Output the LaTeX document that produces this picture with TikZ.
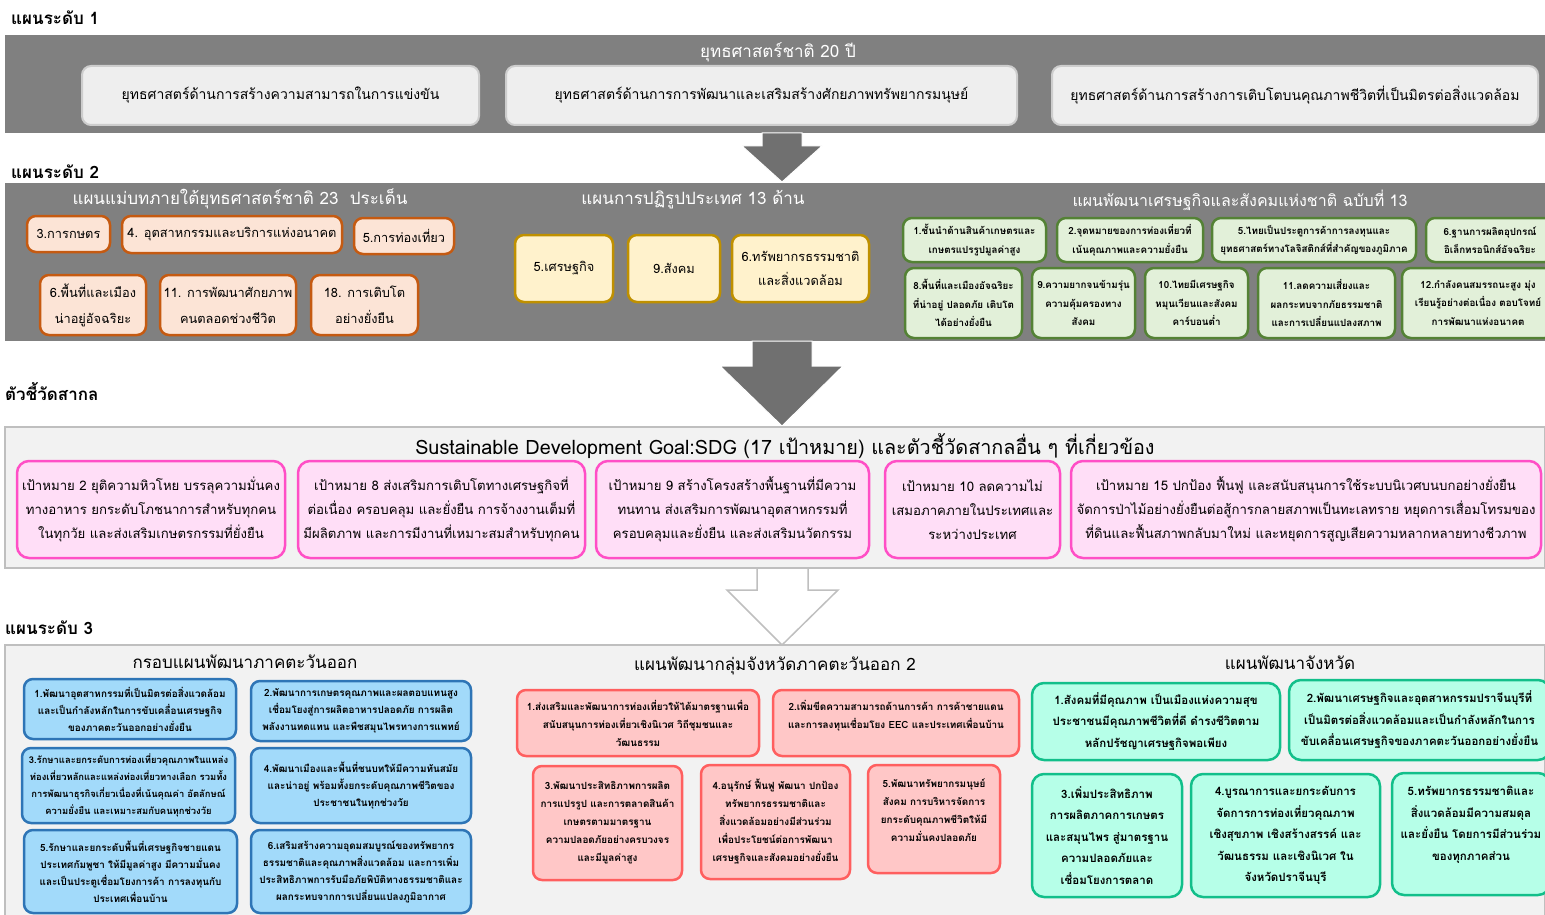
\documentclass[tikz,border=0pt]{standalone}
\usepackage{fontspec}
\setmainfont[Script=Thai]{Loma}
\usepackage{tikz}
\usetikzlibrary{shapes, arrows}

\definecolor{bandgray}{RGB}{128,128,128}
\definecolor{arrowgray}{RGB}{112,112,112}
\definecolor{lvlfill}{RGB}{238,238,238}
\definecolor{lvlborder}{RGB}{205,205,205}
\definecolor{panelfill}{RGB}{242,242,242}
\definecolor{panelborder}{RGB}{191,191,191}
\definecolor{orfill}{RGB}{252,228,214}
\definecolor{orborder}{RGB}{197,90,17}
\definecolor{yefill}{RGB}{255,242,204}
\definecolor{yeborder}{RGB}{191,144,0}
\definecolor{grfill}{RGB}{226,240,217}
\definecolor{grborder}{RGB}{84,130,53}
\definecolor{pkfill}{RGB}{255,222,247}
\definecolor{pkborder}{RGB}{255,79,198}
\definecolor{blfill}{RGB}{162,218,250}
\definecolor{blborder}{RGB}{46,117,182}
\definecolor{rdfill}{RGB}{255,199,199}
\definecolor{rdborder}{RGB}{255,95,95}
\definecolor{tlfill}{RGB}{182,255,232}
\definecolor{tlborder}{RGB}{18,191,138}

\tikzset{sz/.style 2 args={minimum width=#1pt, minimum height=#2pt}}

\begin{document}
\begin{tikzpicture}[x=1pt, y=-1pt]
    \tikzstyle{band} = [fill=bandgray, inner sep=0pt]
    \tikzstyle{panel} = [draw=panelborder, fill=panelfill, line width=2.5pt, inner sep=0pt]
    \tikzstyle{lvllabel} = [anchor=west, inner sep=0pt, font=\fontsize{17}{20}\selectfont\bfseries]
    \tikzstyle{bandtitle} = [text=white, inner sep=0pt, font=\fontsize{17}{20}\selectfont]
    \tikzstyle{paneltitle} = [inner sep=0pt, font=\fontsize{17}{20}\selectfont]
    \tikzstyle{base} = [rounded corners=9pt, align=center, inner sep=2pt, line width=2.5pt]
    \tikzstyle{lvlbox} = [base, draw=lvlborder, fill=lvlfill, line width=2pt, font=\fontsize{14}{18}\selectfont]
    \tikzstyle{obox} = [base, draw=orborder, fill=orfill, font=\fontsize{12.8}{26}\selectfont]
    \tikzstyle{ybox} = [base, draw=yeborder, fill=yefill, font=\fontsize{12.8}{24}\selectfont]
    \tikzstyle{gbox} = [base, draw=grborder, fill=grfill, font=\fontsize{9.8}{18.5}\selectfont\bfseries]
    \tikzstyle{pbox} = [base, draw=pkborder, fill=pkfill, rounded corners=12pt, font=\fontsize{13.2}{24}\selectfont]
    \tikzstyle{bbox} = [base, draw=blborder, fill=blfill, font=\fontsize{9.9}{17}\selectfont\bfseries]
    \tikzstyle{rbox} = [base, draw=rdborder, fill=rdfill, font=\fontsize{9.9}{18}\selectfont\bfseries]
    \tikzstyle{tbox} = [base, draw=tlborder, fill=tlfill, rounded corners=12pt, font=\fontsize{11.5}{21.5}\selectfont\bfseries]
    \tikzstyle{bigarrow} = [fill=arrowgray, draw=white, line width=1pt]
    \tikzstyle{openarrow} = [fill=white, draw=panelborder, line width=1.5pt]

    \useasboundingbox (0,0) rectangle (1545,915);

    % level 1
    \node[lvllabel] (lbl1) at (11,18) {แผนระดับ 1};
    \node[band, sz={1540}{98}] (band1) at (775,84) {};
    \node[bandtitle] (title1) at (778,52) {ยุทธศาสตร์ชาติ 20 ปี};
    \node[lvlbox, sz={397}{59}] (s1) at (280.5,95.5) {ยุทธศาสตร์ด้านการสร้างความสามารถในการแข่งขัน};
    \node[lvlbox, sz={511}{59}] (s2) at (761.5,95.5) {ยุทธศาสตร์ด้านการการพัฒนาและเสริมสร้างศักยภาพทรัพยากรมนุษย์};
    \node[lvlbox, sz={486}{59}] (s3) at (1295,95.5) {ยุทธศาสตร์ด้านการสร้างการเติบโตบนคุณภาพชีวิตที่เป็นมิตรต่อสิ่งแวดล้อม};

    \filldraw[bigarrow] (762,133) -- (802,133) -- (802,146) -- (822,146) -- (782,182)
        -- (742,146) -- (762,146) -- cycle;

    % level 2
    \node[lvllabel] (lbl2) at (11,172) {แผนระดับ 2};
    \node[band, sz={1540}{158}] (band2) at (775,262) {};
    \node[bandtitle] (title2a) at (240,199) {แผนแม่บทภายใต้ยุทธศาสตร์ชาติ 23~~ประเด็น};
    \node[bandtitle] (title2b) at (693,200) {แผนการปฏิรูปประเทศ 13 ด้าน};
    \node[bandtitle, font=\fontsize{16}{20}\selectfont] (title2c) at (1240,200) {แผนพัฒนาเศรษฐกิจและสังคมแห่งชาติ ฉบับที่ 13};

    \node[obox, sz={83}{36}] (o3) at (68.5,234) {3.การกษตร};
    \node[obox, sz={220}{37}] (o4) at (232,234.5) {4. อุตสาหกรรมและบริการแห่งอนาคต};
    \node[obox, sz={100}{36}] (o5) at (404,236) {5.การท่องเที่ยว};
    \node[obox, sz={106}{60}] (o6) at (93,305) {6.พื้นที่และเมือง\\น่าอยู่อัจฉริยะ};
    \node[obox, sz={136}{60}] (o11) at (228,305) {11. การพัฒนาศักยภาพ\\คนตลอดช่วงชีวิต};
    \node[obox, sz={107}{60}] (o18) at (364.5,305) {18. การเติบโต\\อย่างยั่งยืน};

    \node[ybox, sz={98}{67}] (y5) at (564,268.5) {5.เศรษฐกิจ};
    \node[ybox, sz={92}{67}] (y9) at (674,268.5) {9.สังคม};
    \node[ybox, sz={137}{67}] (y6) at (800.5,268.5) {6.ทรัพยากรธรรมชาติ\\และสิ่งแวดล้อม};

    \node[gbox, sz={143}{44}] (g1) at (974.5,240) {1.ชั้นนำด้านสินค้าเกษตรและ\\เกษตรแปรรูปมูลค่าสูง};
    \node[gbox, sz={146}{44}] (g2) at (1130,240) {2.จุดหมายของการท่องเที่ยวที่\\เน้นคุณภาพและความยั่งยืน};
    \node[gbox, sz={204}{44}] (g5) at (1314,240) {5.ไทยเป็นประตูการค้าการลงทุนและ\\ยุทธศาสตร์ทางโลจิสติกส์ที่สำคัญของภูมิภาค};
    \node[gbox, sz={128}{44}] (g6) at (1490,240) {6.ฐานการผลิตอุปกรณ์\\อิเล็กทรอนิกส์อัจฉริยะ};
    \node[gbox, sz={117}{70}] (g8) at (963.5,303) {8.พื้นที่และเมืองอัจฉริยะ\\ที่น่าอยู่ ปลอดภัย เติบโต\\ได้อย่างยั่งยืน};
    \node[gbox, sz={103}{70}] (g9) at (1083.5,303) {9.ความยากจนข้ามรุ่น\\ความคุ้มครองทาง\\สังคม};
    \node[gbox, sz={103}{70}] (g10) at (1196.5,303) {10.ไทยมีเศรษฐกิจ\\หมุนเวียนและสังคม\\คาร์บอนต่ำ};
    \node[gbox, sz={137}{70}] (g11) at (1326.5,303) {11.ลดความเสี่ยงและ\\ผลกระทบจากภัยธรรมชาติ\\และการเปลี่ยนแปลงสภาพ};
    \node[gbox, sz={152}{70}] (g12) at (1478,303) {12.กำลังคนสมรรถนะสูง มุ่ง\\เรียนรู้อย่างต่อเนื่อง ตอบโจทย์\\การพัฒนาแห่งอนาคต};

    \filldraw[bigarrow] (752,341) -- (812,341) -- (812,366) -- (843,366) -- (782,426)
        -- (720,366) -- (752,366) -- cycle;

    % international indicators
    \node[lvllabel] (lbl3) at (5,392) {ตัวชี้วัดสากล};
    \node[panel, sz={1540}{141}] (sdg) at (775,497.5) {};
    \node[paneltitle, font=\fontsize{19.8}{22}\selectfont] (sdgtitle) at (785,446) {Sustainable Development Goal:SDG (17 เป้าหมาย) และตัวชี้วัดสากลอื่น ๆ ที่เกี่ยวข้อง};

    \node[pbox, sz={268}{97}] (p2) at (151,509.5) {เป้าหมาย 2 ยุติความหิวโหย บรรลุความมั่นคง\\ทางอาหาร ยกระดับโภชนาการสำหรับทุกคน\\ในทุกวัย และส่งเสริมเกษตรกรรมที่ยั่งยืน};
    \node[pbox, sz={287}{97}] (p8) at (441.5,509.5) {เป้าหมาย 8 ส่งเสริมการเติบโตทางเศรษฐกิจที่\\ต่อเนื่อง ครอบคลุม และยั่งยืน การจ้างงานเต็มที่\\มีผลิตภาพ และการมีงานที่เหมาะสมสำหรับทุกคน};
    \node[pbox, sz={273}{97}] (p9) at (732.5,509.5) {เป้าหมาย 9 สร้างโครงสร้างพื้นฐานที่มีความ\\ทนทาน ส่งเสริมการพัฒนาอุตสาหกรรมที่\\ครอบคลุมและยั่งยืน และส่งเสริมนวัตกรรม};
    \node[pbox, sz={175}{97}] (p10) at (972.5,509.5) {เป้าหมาย 10 ลดความไม่\\เสมอภาคภายในประเทศและ\\ระหว่างประเทศ};
    \node[pbox, sz={470}{97}] (p15) at (1306,509.5) {เป้าหมาย 15 ปกป้อง ฟื้นฟู และสนับสนุนการใช้ระบบนิเวศบนบกอย่างยั่งยืน\\จัดการป่าไม้อย่างยั่งยืนต่อสู้การกลายสภาพเป็นทะเลทราย หยุดการเสื่อมโทรมของ\\ที่ดินและฟื้นสภาพกลับมาใหม่ และหยุดการสูญเสียความหลากหลายทางชีวภาพ};

    % level 3
    \node[lvllabel] (lbl4) at (5,628) {แผนระดับ 3};
    \node[panel, sz={1540}{280}] (lvl3) at (775,785) {};
    \node[paneltitle] (title3a) at (245,662) {กรอบแผนพัฒนาภาคตะวันออก};
    \node[paneltitle] (title3b) at (775,666) {แผนพัฒนากลุ่มจังหวัดภาคตะวันออก 2};
    \node[paneltitle] (title3c) at (1290,663) {แผนพัฒนาจังหวัด};

    \filldraw[openarrow] (757,568) -- (808,568) -- (808,590) -- (838,590) -- (782,645)
        -- (727,590) -- (757,590) -- cycle;

    \node[bbox, sz={212}{60}] (b1) at (130,709) {1.พัฒนาอุตสาหกรรมที่เป็นมิตรต่อสิ่งแวดล้อม\\และเป็นกำลังหลักในการขับเคลื่อนเศรษฐกิจ\\ของภาคตะวันออกอย่างยั่งยืน};
    \node[bbox, sz={220}{60}] (b2) at (361,711) {2.พัฒนาการเกษตรคุณภาพและผลตอบแทนสูง\\เชื่อมโยงสู่การผลิตอาหารปลอดภัย การผลิต\\พลังงานทดแทน และพืชสมุนไพรทางการแพทย์};
    \node[bbox, sz={213}{75}, font=\fontsize{9.4}{17}\selectfont\bfseries] (b3) at (128.5,785.5) {3.รักษาและยกระดับการท่องเที่ยวคุณภาพในแหล่ง\\ท่องเที่ยวหลักและแหล่งท่องเที่ยวทางเลือก รวมทั้ง\\การพัฒนาธุรกิจเกี่ยวเนื่องที่เน้นคุณค่า อัตลักษณ์\\ความยั่งยืน และเหมาะสมกับคนทุกช่วงวัย};
    \node[bbox, sz={220}{75}] (b4) at (361,785.5) {4.พัฒนาเมืองและพื้นที่ชนบทให้มีความทันสมัย\\และน่าอยู่ พร้อมทั้งยกระดับคุณภาพชีวิตของ\\ประชาชนในทุกช่วงวัย};
    \node[bbox, sz={213}{83}] (b5) at (130.5,871.5) {5.รักษาและยกระดับพื้นที่เศรษฐกิจชายแดน\\ประเทศกัมพูชา ให้มีมูลค่าสูง มีความมั่นคง\\และเป็นประตูเชื่อมโยงการค้า การลงทุนกับ\\ประเทศเพื่อนบ้าน};
    \node[bbox, sz={220}{83}] (b6) at (361,871.5) {6.เสริมสร้างความอุดมสมบูรณ์ของทรัพยากร\\ธรรมชาติและคุณภาพสิ่งแวดล้อม และการเพิ่ม\\ประสิทธิภาพการรับมือภัยพิบัติทางธรรมชาติและ\\ผลกระทบจากการเปลี่ยนแปลงภูมิอากาศ};

    \node[rbox, sz={242}{66}] (r1) at (638,723) {1.ส่งเสริมและพัฒนาการท่องเที่ยวให้ได้มาตรฐานเพื่อ\\สนับสนุนการท่องเที่ยวเชิงนิเวศ วิถีชุมชนและ\\วัฒนธรรม};
    \node[rbox, sz={246}{66}] (r2) at (896,723) {2.เพิ่มขีดความสามารถด้านการค้า การค้าชายแดน\\และการลงทุนเชื่อมโยง EEC และประเทศเพื่อนบ้าน\\[0pt]};
    \node[rbox, sz={149}{114}] (r3) at (607.5,823) {3.พัฒนาประสิทธิภาพการผลิต\\การแปรรูป และการตลาดสินค้า\\เกษตรตามมาตรฐาน\\ความปลอดภัยอย่างครบวงจร\\และมีมูลค่าสูง};
    \node[rbox, sz={149}{114}] (r4) at (775.5,822) {4.อนุรักษ์ ฟื้นฟู พัฒนา ปกป้อง\\ทรัพยากรธรรมชาติและ\\สิ่งแวดล้อมอย่างมีส่วนร่วม\\เพื่อประโยชน์ต่อการพัฒนา\\เศรษฐกิจและสังคมอย่างยั่งยืน};
    \node[rbox, sz={132}{108}] (r5) at (934,819) {5.พัฒนาทรัพยากรมนุษย์\\สังคม การบริหารจัดการ\\ยกระดับคุณภาพชีวิตให้มี\\ความมั่นคงปลอดภัย\\[0pt]};

    \node[tbox, sz={248}{77}] (t1) at (1156,721.5) {1.สังคมที่มีคุณภาพ เป็นเมืองแห่งความสุข\\ประชาชนมีคุณภาพชีวิตที่ดี ดำรงชีวิตตาม\\หลักปรัชญาเศรษฐกิจพอเพียง};
    \node[tbox, sz={261}{80}] (t2) at (1419.5,720) {2.พัฒนาเศรษฐกิจและอุตสาหกรรมปราจีนบุรีที่\\เป็นมิตรต่อสิ่งแวดล้อมและเป็นกำลังหลักในการ\\ขับเคลื่อนเศรษฐกิจของภาคตะวันออกอย่างยั่งยืน};
    \node[tbox, sz={150}{123}] (t3) at (1107,835.5) {3.เพิ่มประสิทธิภาพ\\การผลิตภาคการเกษตร\\และสมุนไพร สู่มาตรฐาน\\ความปลอดภัยและ\\เชื่อมโยงการตลาด};
    \node[tbox, sz={189}{123}] (t4) at (1285.5,835.5) {4.บูรณาการและยกระดับการ\\จัดการการท่องเที่ยวคุณภาพ\\เชิงสุขภาพ เชิงสร้างสรรค์ และ\\วัฒนธรรม และเชิงนิเวศ ใน\\จังหวัดปราจีนบุรี};
    \node[tbox, sz={158}{122}] (t5) at (1471,834) {5.ทรัพยากรธรรมชาติและ\\สิ่งแวดล้อมมีความสมดุล\\และยั่งยืน โดยการมีส่วนร่วม\\ของทุกภาคส่วน\\[0pt]};
\end{tikzpicture}
\end{document}
